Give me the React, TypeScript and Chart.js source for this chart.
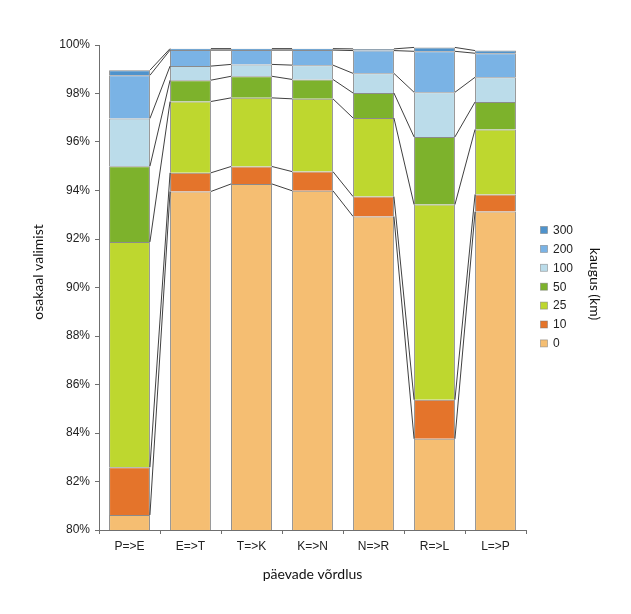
import { useEffect, useRef } from "react";
import Chart from "chart.js/auto";

// päevade paarid ja kauguse klassid (km)
const categories = ["P=>E", "E=>T", "T=>K", "K=>N", "N=>R", "R=>L", "L=>P"];
const distanceLabels = ["0", "10", "25", "50", "100", "200", "300"];

// osakaal valimist (%), iga kauguse klass eraldi
const share0 = [80.62, 93.96, 94.27, 93.99, 92.93, 83.76, 93.13];
const share10 = [1.97, 0.77, 0.72, 0.79, 0.82, 1.61, 0.71];
const share25 = [9.29, 2.94, 2.83, 3.0, 3.24, 8.05, 2.68];
const share50 = [3.12, 0.88, 0.89, 0.8, 1.03, 2.79, 1.13];
const share100 = [1.97, 0.58, 0.49, 0.59, 0.81, 1.84, 1.02];
const share200 = [1.78, 0.66, 0.59, 0.62, 0.94, 1.69, 0.99];
const share300 = [0.21, 0.06, 0.06, 0.06, 0.07, 0.16, 0.11];

const yTicks = [80, 82, 84, 86, 88, 90, 92, 94, 96, 98, 100];

const seriesValues = [share0, share10, share25, share50, share100, share200, share300];
const seriesColors = [
  "#F5BE72",
  "#E4742B",
  "#BED72F",
  "#7DB22C",
  "#BBDCEA",
  "#7AB3E5",
  "#4F93CC",
];

const titleFont = "14px Lato, 'Open Sans', sans-serif";
const tickFont = { size: 12, family: "'Liberation Sans', Arial, sans-serif" };

const overlayPlugin = {
  id: "overlay",
  afterDatasetsDraw(chart: any) {
    const ctx = chart.ctx as CanvasRenderingContext2D;
    ctx.save();

    // ühendusjooned tulpade vahel
    ctx.strokeStyle = "#2a2a2a";
    ctx.lineWidth = 0.9;
    chart.data.datasets.forEach((_: unknown, d: number) => {
      const bars = chart.getDatasetMeta(d).data as any[];
      for (let i = 0; i < bars.length - 1; i++) {
        const a = bars[i];
        const b = bars[i + 1];
        ctx.beginPath();
        ctx.moveTo(a.x + a.width / 2, a.y);
        ctx.lineTo(b.x - b.width / 2, b.y);
        ctx.stroke();
      }
    });

    // legend (300 üleval)
    ctx.font = "12px 'Liberation Sans', Arial, sans-serif";
    ctx.textBaseline = "middle";
    ctx.textAlign = "left";
    const n = distanceLabels.length;
    for (let k = 0; k < n; k++) {
      const idx = n - 1 - k;
      const cy = 230 + k * 18.9;
      ctx.fillStyle = seriesColors[idx];
      ctx.fillRect(540.5, cy - 3.5, 7, 7);
      ctx.strokeStyle = "rgba(120,120,120,0.6)";
      ctx.lineWidth = 0.8;
      ctx.strokeRect(540.5, cy - 3.5, 7, 7);
      ctx.fillStyle = "#222";
      ctx.fillText(distanceLabels[idx], 553, cy + 0.5);
    }

    // legendi pealkiri
    ctx.font = titleFont;
    ctx.fillStyle = "#111";
    ctx.textAlign = "center";
    ctx.save();
    ctx.translate(595, 284);
    ctx.rotate(Math.PI / 2);
    ctx.fillText("kaugus (km)", 0, 0);
    ctx.restore();

    // y-telje pealkiri
    ctx.save();
    ctx.translate(38, 272);
    ctx.rotate(-Math.PI / 2);
    ctx.fillText("osakaal valimist", 0, 0);
    ctx.restore();

    ctx.restore();
  },
};

export default function App() {
  const canvasRef = useRef<HTMLCanvasElement | null>(null);

  useEffect(() => {
    document.body.style.margin = "0";
    if (!canvasRef.current) return;

    const chart = new Chart(canvasRef.current, {
      type: "bar",
      data: {
        labels: categories,
        datasets: seriesValues.map((values, i) => ({
          label: distanceLabels[i],
          data: values,
          backgroundColor: seriesColors[i],
          borderColor: "rgba(110,110,110,0.8)",
          borderWidth: 1,
          barPercentage: 0.67,
          categoryPercentage: 1,
        })),
      },
      options: {
        responsive: true,
        maintainAspectRatio: false,
        animation: false,
        layout: {
          padding: { top: 45, right: 105, left: 0, bottom: 0 },
        },
        plugins: {
          legend: { display: false },
          tooltip: { enabled: false },
        },
        scales: {
          x: {
            stacked: true,
            afterFit: (scale: any) => {
              scale.height = 84;
            },
            grid: {
              drawOnChartArea: false,
              offset: true,
              tickLength: 4,
              color: "#6f6f6f",
            },
            border: { color: "#6f6f6f" },
            ticks: { color: "#222", font: tickFont, padding: 5 },
            title: {
              display: true,
              text: "päevade võrdlus",
              color: "#111",
              font: { size: 14, family: "Lato, 'Open Sans', sans-serif" },
              padding: { top: 0, bottom: 31 },
            },
          },
          y: {
            stacked: true,
            min: 80,
            max: 100,
            afterFit: (scale: any) => {
              scale.width = 99;
            },
            afterBuildTicks: (scale: any) => {
              scale.ticks = yTicks.map((v) => ({ value: v }));
            },
            grid: {
              drawOnChartArea: false,
              tickLength: 4,
              color: "#6f6f6f",
            },
            border: { color: "#6f6f6f" },
            ticks: {
              color: "#222",
              font: tickFont,
              padding: 5,
              callback: (value) => `${value}%`,
            },
          },
        },
      },
      plugins: [overlayPlugin],
    });

    return () => {
      chart.destroy();
    };
  }, []);

  return (
    <div style={{ width: 631, height: 614, position: "relative", background: "#fff" }}>
      <canvas ref={canvasRef}></canvas>
    </div>
  );
}
